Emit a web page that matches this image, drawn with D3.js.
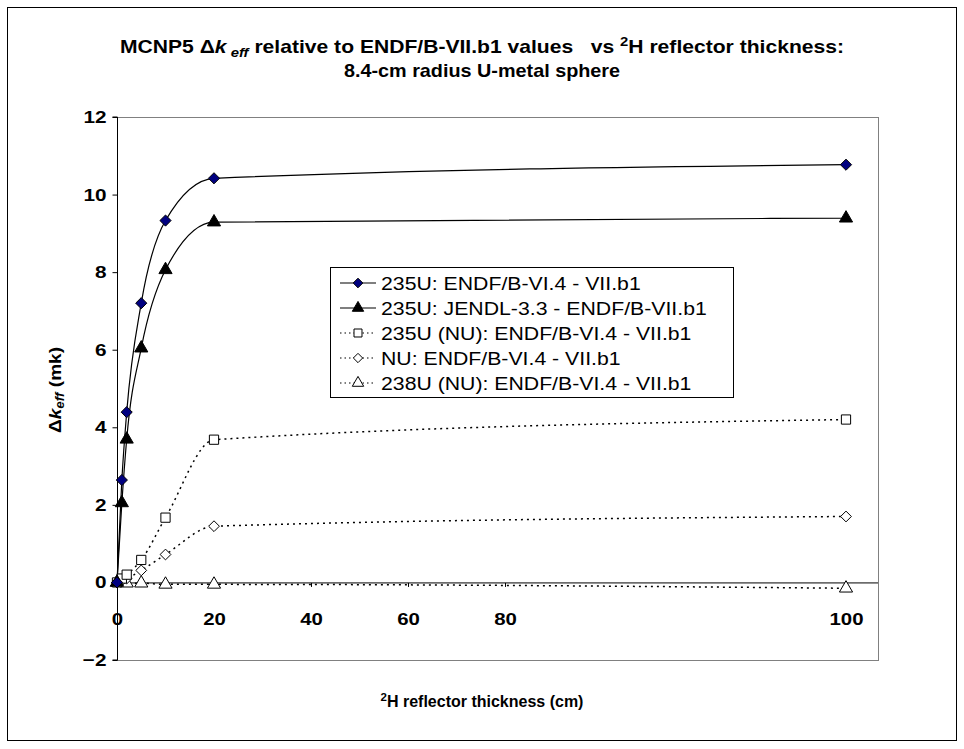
<!DOCTYPE html>
<html><head><meta charset="utf-8">
<script src="https://cdn.jsdelivr.net/npm/d3@7"></script>
<style>body{margin:0;background:#fff;} text{font-family:"Liberation Sans",Arial,sans-serif;}</style>
</head><body>
<svg id="c" width="964" height="749"></svg>
<script>
const thickness = [0, 1, 2, 5, 10, 20, 100];
const s235_B6 = [0, 2.64, 4.39, 7.2, 9.33, 10.42, 10.77];
const s235_JENDL = [0, 2.05, 3.69, 6.04, 8.06, 9.29, 9.39];
const s235NU_B6 = [0, 0.1, 0.2, 0.58, 1.67, 3.68, 4.2];
const sNU_B6 = [0, 0.05, 0.1, 0.31, 0.72, 1.45, 1.7];
const s238NU_B6 = [0, 0, -0.02, -0.02, -0.05, -0.05, -0.15];
const seriesNames = ["235U: ENDF/B-VI.4 - VII.b1","235U: JENDL-3.3 - ENDF/B-VII.b1","235U (NU): ENDF/B-VI.4 - VII.b1","NU: ENDF/B-VI.4 - VII.b1","238U (NU): ENDF/B-VI.4 - VII.b1"];
const xTicks = [0, 20, 40, 60, 80, 100];
const yTicks = [-2, 0, 2, 4, 6, 8, 10, 12];

function stretch(sel, k){
  sel.each(function(){
    const w = this.getComputedTextLength();
    d3.select(this).attr("textLength", w*k).attr("lengthAdjust","spacingAndGlyphs");
  });
}

const svg = d3.select("#c");
svg.append("rect").attr("x",7.5).attr("y",7.5).attr("width",949).attr("height",733).attr("fill","#fff").attr("stroke","#000").attr("stroke-width",1);

const L = 117, R = 878, T = 117, B = 660;
const x = d3.scaleLinear().domain([0, 80, 100]).range([L, 505, 846]);
const y = d3.scaleLinear().domain([-2, 12]).range([B, T]);

// plot area border
svg.append("rect").attr("x",L+0.5).attr("y",T+0.5).attr("width",R-L).attr("height",B-T).attr("fill","none").attr("stroke","#808080").attr("stroke-width",1);

// y axis
const ya = svg.append("g").attr("transform",`translate(${L+0.5},0)`).call(d3.axisLeft(y).tickValues(yTicks).tickSize(5).tickPadding(6).tickFormat(d3.format("d")));
ya.select(".domain").attr("stroke","#000").attr("d",`M-5,${y(12)}H0V${B}H-5`);
ya.selectAll("text").attr("font-size",17).attr("font-weight","bold").attr("fill","#000");
ya.selectAll(".tick line").attr("stroke","#000");
stretch(ya.selectAll(".tick text"), 1.22);

// x axis at y=0
const xa = svg.append("g").attr("transform",`translate(0,${y(0)+0.5})`).call(d3.axisBottom(x).tickValues(xTicks).tickSize(4).tickFormat(d3.format("d")));
xa.select(".domain").attr("stroke","#000").attr("d",`M${L},0H${R}`);
xa.selectAll(".tick line").attr("stroke","#000");
xa.selectAll(".tick text").attr("font-size",17).attr("font-weight","bold").attr("fill","#000")
  .attr("y",null).attr("dy","0").attr("transform",`translate(0,${624-y(0)})`);
stretch(xa.selectAll(".tick text"), 1.2);

// series
const squareDiamond = {draw(ctx, size){ const r = Math.sqrt(size/2); ctx.moveTo(0,-r); ctx.lineTo(r,0); ctx.lineTo(0,r); ctx.lineTo(-r,0); ctx.closePath(); }};
const series = [
  {vals:s235_B6, sym:"diamond", fill:"#000080", stroke:"#000", dash:null, size:62},
  {vals:s235_JENDL, sym:"triangle", fill:"#000", stroke:"#000", dash:null, size:75},
  {vals:s235NU_B6, sym:"square", fill:"#fff", stroke:"#000", dash:"2,4", size:85},
  {vals:sNU_B6, sym:"diamond", fill:"#fff", stroke:"#000", dash:"2,4", size:58},
  {vals:s238NU_B6, sym:"triangle", fill:"#fff", stroke:"#000", dash:"2,4", size:75}
];
const symMap = {diamond:squareDiamond, triangle:d3.symbolTriangle, square:d3.symbolSquare};
const line = d3.line().x(d=>x(d[0])).y(d=>y(d[1])).curve(d3.curveMonotoneX);

series.slice().reverse().forEach(s=>{
  const pts = thickness.map((t,i)=>[t, s.vals[i]]);
  svg.append("path").attr("d",line(pts)).attr("fill","none").attr("stroke","#000").attr("stroke-width",s.dash?1.5:1.2).attr("stroke-dasharray",s.dash);
});
series.slice().reverse().forEach(s=>{
  const pts = thickness.map((t,i)=>[t, s.vals[i]]);
  svg.append("g").selectAll("path").data(pts).join("path")
    .attr("transform",d=>`translate(${x(d[0])},${y(d[1])})`)
    .attr("d",d3.symbol(symMap[s.sym], s.size))
    .attr("fill",s.fill).attr("stroke",s.stroke).attr("stroke-width",1);
});

// legend
const lg = svg.append("g");
lg.append("rect").attr("x",330.5).attr("y",267.5).attr("width",403).attr("height",130).attr("fill","#fff").attr("stroke","#000");
series.forEach((s,i)=>{
  const yy = 283 + i*25;
  lg.append("line").attr("x1",340).attr("x2",376).attr("y1",yy).attr("y2",yy).attr("stroke","#000").attr("stroke-width",1.2).attr("stroke-dasharray",s.dash?"1.5,3":null);
  lg.append("path").attr("transform",`translate(358,${yy})`).attr("d",d3.symbol(symMap[s.sym], s.size*0.75)).attr("fill",s.fill).attr("stroke",s.stroke);
  const tx = lg.append("text").attr("x",381).attr("y",yy+6.5).attr("font-size",18).text(seriesNames[i]);
  stretch(tx, 1.18);
});

// title
const t1 = svg.append("text").attr("x",482).attr("y",53).attr("text-anchor","middle").attr("font-size",18.5).attr("font-weight","bold");
t1.append("tspan").text("MCNP5 Δ");
t1.append("tspan").attr("font-style","italic").text("k");
t1.append("tspan").attr("font-style","italic").attr("font-size",13).attr("dy",4).text(" eff");
t1.append("tspan").attr("dy",-4).text(" relative to ENDF/B-VII.b1 values\u00a0\u00a0\u00a0vs ");
t1.append("tspan").attr("font-size",13).attr("dy",-7).text("2");
t1.append("tspan").attr("dy",7).text("H reflector thickness:");
stretch(t1, 1.14);
const t2 = svg.append("text").attr("x",482).attr("y",77).attr("text-anchor","middle").attr("font-size",18.5).attr("font-weight","bold").text("8.4-cm radius U-metal sphere");
stretch(t2, 1.07);

// y label
const yl = svg.append("text").attr("transform","translate(61,390) rotate(-90)").attr("text-anchor","middle").attr("font-size",17).attr("font-weight","bold");
yl.append("tspan").text("Δ");
yl.append("tspan").attr("font-style","italic").text("k");
yl.append("tspan").attr("font-style","italic").attr("font-size",12).attr("dy",3).text("eff");
yl.append("tspan").attr("dy",-3).text(" (mk)");
stretch(yl, 1.12);

// x label
const xl = svg.append("text").attr("x",482).attr("y",707).attr("text-anchor","middle").attr("font-size",16).attr("font-weight","bold");
xl.append("tspan").attr("font-size",11.5).attr("dy",-6).text("2");
xl.append("tspan").attr("dy",6).text("H reflector thickness (cm)");
</script>
</body></html>
